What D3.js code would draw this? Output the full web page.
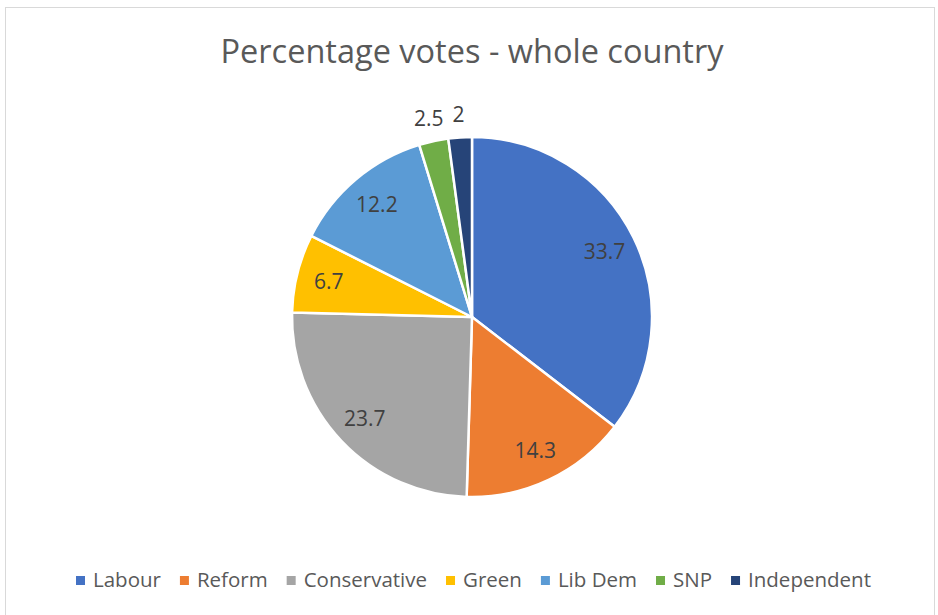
<!DOCTYPE html>
<html>
<head>
<meta charset="utf-8">
<script src="https://cdn.jsdelivr.net/npm/d3@7/dist/d3.min.js"></script>
<style>
  body { margin: 0; background: #fff; }
  svg { display: block; }
</style>
</head>
<body>
<div id="plot"></div>
<script>
'use strict';

const parties = ['Labour', 'Reform', 'Conservative', 'Green', 'Lib Dem', 'SNP', 'Independent']
const votes = [33.7, 14.3, 23.7, 6.7, 12.2, 2.5, 2]
const col = ['#4472C4', '#ED7D31', '#A5A5A5', '#FFC000', '#5B9BD5', '#70AD47', '#264478']
const title = 'Percentage votes - whole country'

const width = 938, height = 615
const font = '"Open Sans", Lato, sans-serif'
const cx = 472, cy = 317, radius = 180

let data = parties.map((p, i) => ({name: p, value: votes[i], color: col[i]}))

let svg = d3.select('#plot').append('svg')
  .attr('width', width)
  .attr('height', height)

// chart area border
svg.append('rect')
  .attr('x', 5.5)
  .attr('y', 7.5)
  .attr('width', 929)
  .attr('height', 620)
  .attr('fill', '#fff')
  .attr('stroke', '#d9d9d9')

svg.append('text')
  .attr('x', cx)
  .attr('y', 63)
  .attr('text-anchor', 'middle')
  .attr('font-family', font)
  .attr('font-size', '32.5px')
  .attr('fill', '#595959')
  .text(title)

let pie = d3.pie()
  .sort(null)
  .value(d => d.value)

let arc = d3.arc()
  .innerRadius(0)
  .outerRadius(radius)

let inner = d3.arc()
  .innerRadius(radius * 0.82)
  .outerRadius(radius * 0.82)

let outer = d3.arc()
  .innerRadius(radius + 23)
  .outerRadius(radius + 23)

let g = svg.append('g')
  .attr('transform', `translate(${cx}, ${cy})`)

let arcs = pie(data)

g.selectAll('path')
  .data(arcs)
  .enter()
  .append('path')
  .attr('d', arc)
  .attr('fill', d => d.data.color)
  .attr('stroke', '#fff')
  .attr('stroke-width', 2.5)
  .attr('stroke-linejoin', 'round')

g.selectAll('text.lbl')
  .data(arcs)
  .enter()
  .append('text')
  .attr('class', 'lbl')
  .attr('transform', function(d) {
    let p = d.data.value < 5 ? outer.centroid(d) : inner.centroid(d)
    return `translate(${p[0]}, ${p[1]})`
  })
  .attr('dy', '0.36em')
  .attr('text-anchor', 'middle')
  .attr('font-family', font)
  .attr('font-size', '21px')
  .attr('fill', '#404040')
  .text(d => d.data.value)

// legend
let legend = svg.append('g')
let lx = 76
let ly = 580
data.forEach(function(d) {
  let item = legend.append('g')
    .attr('transform', `translate(${lx}, ${ly})`)
  item.append('rect')
    .attr('x', 0)
    .attr('y', -4)
    .attr('width', 9)
    .attr('height', 9)
    .attr('fill', d.color)
  let t = item.append('text')
    .attr('x', 17)
    .attr('y', 0)
    .attr('dy', '0.36em')
    .attr('font-family', font)
    .attr('font-size', '20.5px')
    .attr('fill', '#595959')
    .text(d.name)
  lx += 17 + t.node().getComputedTextLength() + 19
})
</script>
</body>
</html>
